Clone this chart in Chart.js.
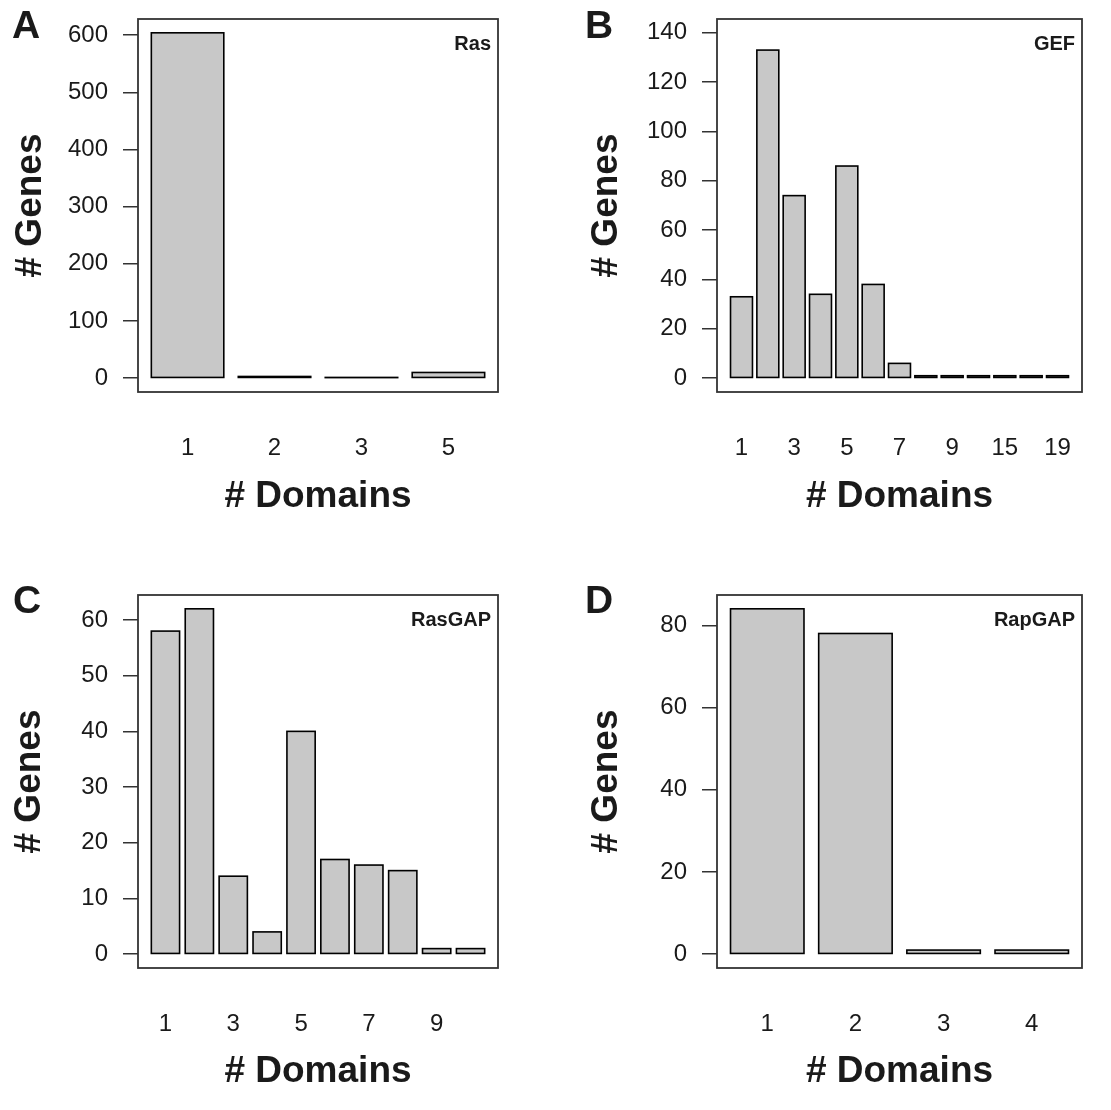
<!DOCTYPE html>
<html>
<head>
<meta charset="utf-8">
<script src="https://cdn.jsdelivr.net/npm/chart.js@4.4.1/dist/chart.umd.min.js"></script>
<style>
  html, body { margin: 0; padding: 0; background: #fff; }
  #figure { position: relative; width: 1111px; height: 1110px; }
  #figure canvas { position: absolute; }
</style>
</head>
<body>
<div id="figure">
  <canvas id="panelA"></canvas>
  <canvas id="panelB"></canvas>
  <canvas id="panelC"></canvas>
  <canvas id="panelD"></canvas>
</div>
<script>
// data
var rasDomains = ['1', '2', '3', '5'];
var rasGenes = [604, 3, 1, 10];
var rasTicks = [0, 100, 200, 300, 400, 500, 600];

// only odd positions are labelled in the figure, the others are guesses
var gefDomains = ['1', '2', '3', '4', '5', '6', '7', '8', '9', '11', '15', '17', '19'];
var gefGenes = [33, 133, 74, 34, 86, 38, 6, 1, 1, 1, 1, 1, 1];
var gefTicks = [0, 20, 40, 60, 80, 100, 120, 140];

var rasgapDomains = ['1', '2', '3', '4', '5', '6', '7', '8', '9', '10'];
var rasgapGenes = [58, 62, 14, 4, 40, 17, 16, 15, 1, 1];
var rasgapTicks = [0, 10, 20, 30, 40, 50, 60];

var rapgapDomains = ['1', '2', '3', '4'];
var rapgapGenes = [84, 78, 1, 1];
var rapgapTicks = [0, 20, 40, 60, 80];

//-----------------------------------------------------------------------------
// layout of the four panels (page pixels)
//-----------------------------------------------------------------------------
var FONT = '"Liberation Sans", Arial, Helvetica, sans-serif';
var INK = '#1a1a1a';
var X_AXIS_HEIGHT = 130;

var panels = [
  { id: 'panelA', letter: 'A', name: 'Ras', categories: rasDomains, values: rasGenes, ticks: rasTicks,
    labelEvery: 1, frame: { left: 0, top: 0, width: 556, height: 555 },
    box: { left: 138, top: 19, right: 498, bottom: 392 },
    letterPos: [12, 38], yTitleX: 31, xTitleY: 497 },
  { id: 'panelB', letter: 'B', name: 'GEF', categories: gefDomains, values: gefGenes, ticks: gefTicks,
    labelEvery: 2, yLimit: 140, frame: { left: 556, top: 0, width: 555, height: 555 },
    box: { left: 717, top: 19, right: 1082, bottom: 392 },
    letterPos: [29, 38], yTitleX: 51, xTitleY: 497 },
  { id: 'panelC', letter: 'C', name: 'RasGAP', categories: rasgapDomains, values: rasgapGenes, ticks: rasgapTicks,
    labelEvery: 2, frame: { left: 0, top: 555, width: 556, height: 555 },
    box: { left: 138, top: 595, right: 498, bottom: 968 },
    letterPos: [13, 58], yTitleX: 30, xTitleY: 517 },
  { id: 'panelD', letter: 'D', name: 'RapGAP', categories: rapgapDomains, values: rapgapGenes, ticks: rapgapTicks,
    labelEvery: 1, frame: { left: 556, top: 555, width: 555, height: 555 },
    box: { left: 717, top: 595, right: 1082, bottom: 968 },
    letterPos: [29, 58], yTitleX: 51, xTitleY: 517 }
];

// R strokes the bar outline on the edge, so tiny bars still show as a line
var outlinePlugin = {
  id: 'outline',
  afterDatasetsDraw: function(chart) {
    var ctx = chart.ctx;
    ctx.save();
    ctx.strokeStyle = '#000';
    ctx.lineWidth = 1.6;
    chart.getDatasetMeta(0).data.forEach(function(bar) {
      var top = Math.min(bar.y, bar.base);
      ctx.strokeRect(bar.x - bar.width / 2, top, bar.width, Math.abs(bar.base - bar.y));
    });
    ctx.restore();
  }
};

// box around the plot region, panel letter and gene family name
var framePlugin = {
  id: 'frame',
  afterDraw: function(chart) {
    var p = chart.options.plugins.frame;
    var a = chart.chartArea;
    var ctx = chart.ctx;
    ctx.save();
    ctx.strokeStyle = '#333';
    ctx.lineWidth = 1.8;
    ctx.strokeRect(a.left, a.top, a.right - a.left, a.bottom - a.top);

    ctx.fillStyle = INK;
    ctx.textBaseline = 'alphabetic';
    ctx.textAlign = 'left';
    ctx.font = 'bold 39px ' + FONT;
    ctx.fillText(p.letter, p.letterPos[0], p.letterPos[1]);

    ctx.textAlign = 'right';
    ctx.font = 'bold 20px ' + FONT;
    ctx.fillText(p.name, a.right - 7, a.top + 31);
    ctx.restore();
  }
};

// keep the plot region exactly where the layout says
function noOverflow(s) {
  s.paddingTop = 0;
  s.paddingBottom = 0;
  s.paddingLeft = 0;
  s.paddingRight = 0;
}

function drawPanel(p) {
  var canvas = document.getElementById(p.id);
  canvas.width = p.frame.width;
  canvas.height = p.frame.height;
  canvas.style.left = p.frame.left + 'px';
  canvas.style.top = p.frame.top + 'px';

  // barplot geometry: bar width 1, gap 0.2, axis range padded by 4%
  var n = p.values.length;
  var span = 1.2 * n - 0.2;
  var xMin = 0.2 - 0.04 * span;
  var xMax = 1.2 * n + 0.04 * span;
  var centers = p.values.map(function(v, i) { return 0.7 + 1.2 * i; });
  var yTop = p.yLimit || Math.max.apply(null, p.values);

  var boxLeft = p.box.left - p.frame.left;
  var boxTop = p.box.top - p.frame.top;
  var boxRight = p.box.right - p.frame.left;
  var boxBottom = p.box.bottom - p.frame.top;
  var titleLine = 37 * 1.2;

  new Chart(canvas, {
    type: 'bar',
    data: {
      datasets: [{
        data: p.values.map(function(v, i) { return { x: centers[i], y: v }; }),
        backgroundColor: '#c8c8c8',
        borderWidth: 0,
        categoryPercentage: 1,
        barPercentage: 1 / 1.2
      }]
    },
    options: {
      responsive: false,
      animation: false,
      layout: {
        padding: {
          left: 0,
          top: boxTop,
          right: p.frame.width - boxRight,
          bottom: p.frame.height - boxBottom - X_AXIS_HEIGHT
        }
      },
      plugins: {
        legend: { display: false },
        tooltip: { enabled: false },
        frame: p
      },
      scales: {
        x: {
          type: 'linear',
          offset: false,
          min: xMin,
          max: xMax,
          afterBuildTicks: function(s) {
            s.ticks = centers.map(function(c) { return { value: c }; });
          },
          afterFit: function(s) {
            s.height = X_AXIS_HEIGHT;
            noOverflow(s);
          },
          grid: { display: false },
          border: { display: false },
          ticks: {
            autoSkip: false,
            maxRotation: 0,
            padding: 34,
            color: INK,
            font: { family: FONT, size: 24 },
            callback: function(value, index) {
              return index % p.labelEvery === 0 ? p.categories[index] : '';
            }
          },
          title: {
            display: true,
            text: '# Domains',
            color: INK,
            font: { family: FONT, size: 37, weight: 'bold' },
            padding: { top: 0, bottom: boxBottom + X_AXIS_HEIGHT - p.xTitleY - titleLine / 2 }
          }
        },
        y: {
          min: -0.04 * yTop,
          max: 1.04 * yTop,
          afterBuildTicks: function(s) {
            s.ticks = p.ticks.map(function(t) { return { value: t }; });
          },
          afterFit: function(s) {
            s.width = boxLeft;
            noOverflow(s);
          },
          grid: {
            drawOnChartArea: false,
            drawTicks: true,
            tickLength: 15,
            color: '#333',
            lineWidth: 1.5
          },
          border: { display: false },
          ticks: {
            padding: 15,
            color: INK,
            font: { family: FONT, size: 24 },
            callback: function(value) { return String(value); }
          },
          title: {
            display: true,
            text: '# Genes',
            color: INK,
            font: { family: FONT, size: 37, weight: 'bold' },
            padding: { top: p.yTitleX - titleLine / 2, bottom: 0 }
          }
        }
      }
    },
    plugins: [outlinePlugin, framePlugin]
  });
}

panels.forEach(drawPanel);
</script>
</body>
</html>
